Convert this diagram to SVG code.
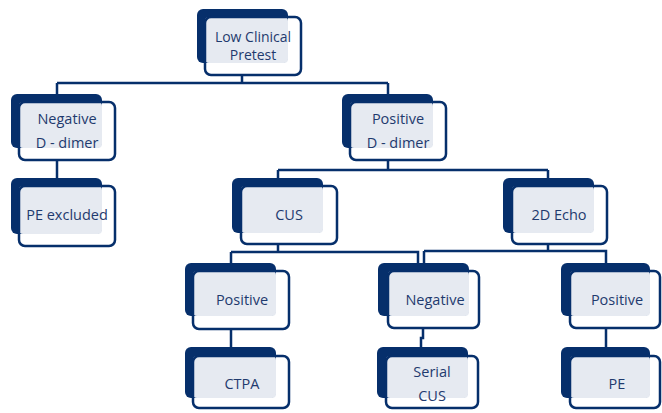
<svg xmlns="http://www.w3.org/2000/svg" width="662" height="413" viewBox="0 0 662 413">
<style>
.back{fill:#062f6b}
.fill{fill:#e6eaf1}
.front{fill:none;stroke:#062f6b;stroke-width:2.5}
.conn{fill:none;stroke:#062f6b;stroke-width:2.5}
text{font-family:"Open Sans","Liberation Sans",sans-serif;font-size:14.5px;fill:#1f3a6e;text-anchor:middle}
</style>
<rect width="662" height="413" fill="#ffffff"/>
<g id="connectors">
<path class="conn" d="M242,75 V83 M57,83 H388 M57,83 V94 M388,83 V94"/>
<path class="conn" d="M57,160 V178"/>
<path class="conn" d="M388,160 V170 M278,170 H548 M278,170 V178 M548,170 V178"/>
<path class="conn" d="M278,244 V252 M231,252 H418 V263 M231,252 V263"/>
<path class="conn" d="M548,244 V251 M424,251 H606 V263 M424,251 V263"/>
<path class="conn" d="M231,329 V347"/>
<path class="conn" d="M423,328 V338 H421 V347"/>
<path class="conn" d="M606,328 V347"/>
</g>
<g id="n-low">
<rect class="back" x="197" y="9" width="91" height="54" rx="6"/>
<rect class="fill" x="205" y="17" width="83" height="46" rx="4"/>
<rect class="front" x="205" y="17" width="96" height="58" rx="6"/>
<text x="253" y="42" style="font-size:14px">Low Clinical</text>
<text x="253" y="60" style="font-size:14px">Pretest</text>
</g>
<g id="n-negd">
<rect class="back" x="11" y="94" width="91" height="54" rx="6"/>
<rect class="fill" x="19" y="102" width="83" height="46" rx="4"/>
<rect class="front" x="19" y="102" width="96" height="58" rx="6"/>
<text x="67" y="124">Negative</text>
<text x="67" y="148">D - dimer</text>
</g>
<g id="n-posd">
<rect class="back" x="342" y="94" width="91" height="54" rx="6"/>
<rect class="fill" x="350" y="102" width="83" height="46" rx="4"/>
<rect class="front" x="350" y="102" width="96" height="58" rx="6"/>
<text x="398" y="124">Positive</text>
<text x="398" y="148">D - dimer</text>
</g>
<g id="n-peex">
<rect class="back" x="11" y="178" width="91" height="56" rx="6"/>
<rect class="fill" x="19" y="186" width="83" height="48" rx="4"/>
<rect class="front" x="19" y="186" width="96" height="60" rx="6"/>
<text x="67" y="220">PE excluded</text>
</g>
<g id="n-cus">
<rect class="back" x="232" y="178" width="91" height="55" rx="6"/>
<rect class="fill" x="241" y="186" width="82" height="47" rx="4"/>
<rect class="front" x="241" y="186" width="96" height="58" rx="6"/>
<text x="289" y="220">CUS</text>
</g>
<g id="n-echo">
<rect class="back" x="503" y="178" width="91" height="55" rx="6"/>
<rect class="fill" x="512" y="186" width="82" height="47" rx="4"/>
<rect class="front" x="512" y="186" width="95" height="58" rx="6"/>
<text x="559" y="220">2D Echo</text>
</g>
<g id="n-pos1">
<rect class="back" x="185" y="263" width="91" height="53" rx="6"/>
<rect class="fill" x="193" y="271" width="83" height="45" rx="4"/>
<rect class="front" x="193" y="271" width="96" height="58" rx="6"/>
<text x="242" y="305">Positive</text>
</g>
<g id="n-neg2">
<rect class="back" x="378" y="263" width="91" height="53" rx="6"/>
<rect class="fill" x="388" y="271" width="81" height="45" rx="4"/>
<rect class="front" x="388" y="271" width="91" height="57" rx="6"/>
<text x="435" y="305">Negative</text>
</g>
<g id="n-pos2">
<rect class="back" x="561" y="263" width="89" height="53" rx="6"/>
<rect class="fill" x="570" y="271" width="80" height="45" rx="4"/>
<rect class="front" x="570" y="271" width="90" height="57" rx="6"/>
<text x="617" y="305">Positive</text>
</g>
<g id="n-ctpa">
<rect class="back" x="185" y="347" width="91" height="51" rx="6"/>
<rect class="fill" x="193" y="356" width="83" height="42" rx="4"/>
<rect class="front" x="193" y="356" width="96" height="52" rx="6"/>
<text x="242" y="389">CTPA</text>
</g>
<g id="n-serial">
<rect class="back" x="377" y="347" width="91" height="51" rx="6"/>
<rect class="fill" x="386" y="356" width="82" height="42" rx="4"/>
<rect class="front" x="386" y="356" width="92" height="52" rx="6"/>
<text x="432" y="377">Serial</text>
<text x="432" y="401">CUS</text>
</g>
<g id="n-pe">
<rect class="back" x="561" y="347" width="89" height="51" rx="6"/>
<rect class="fill" x="570" y="356" width="80" height="42" rx="4"/>
<rect class="front" x="570" y="356" width="90" height="52" rx="6"/>
<text x="617" y="389">PE</text>
</g>
</svg>
